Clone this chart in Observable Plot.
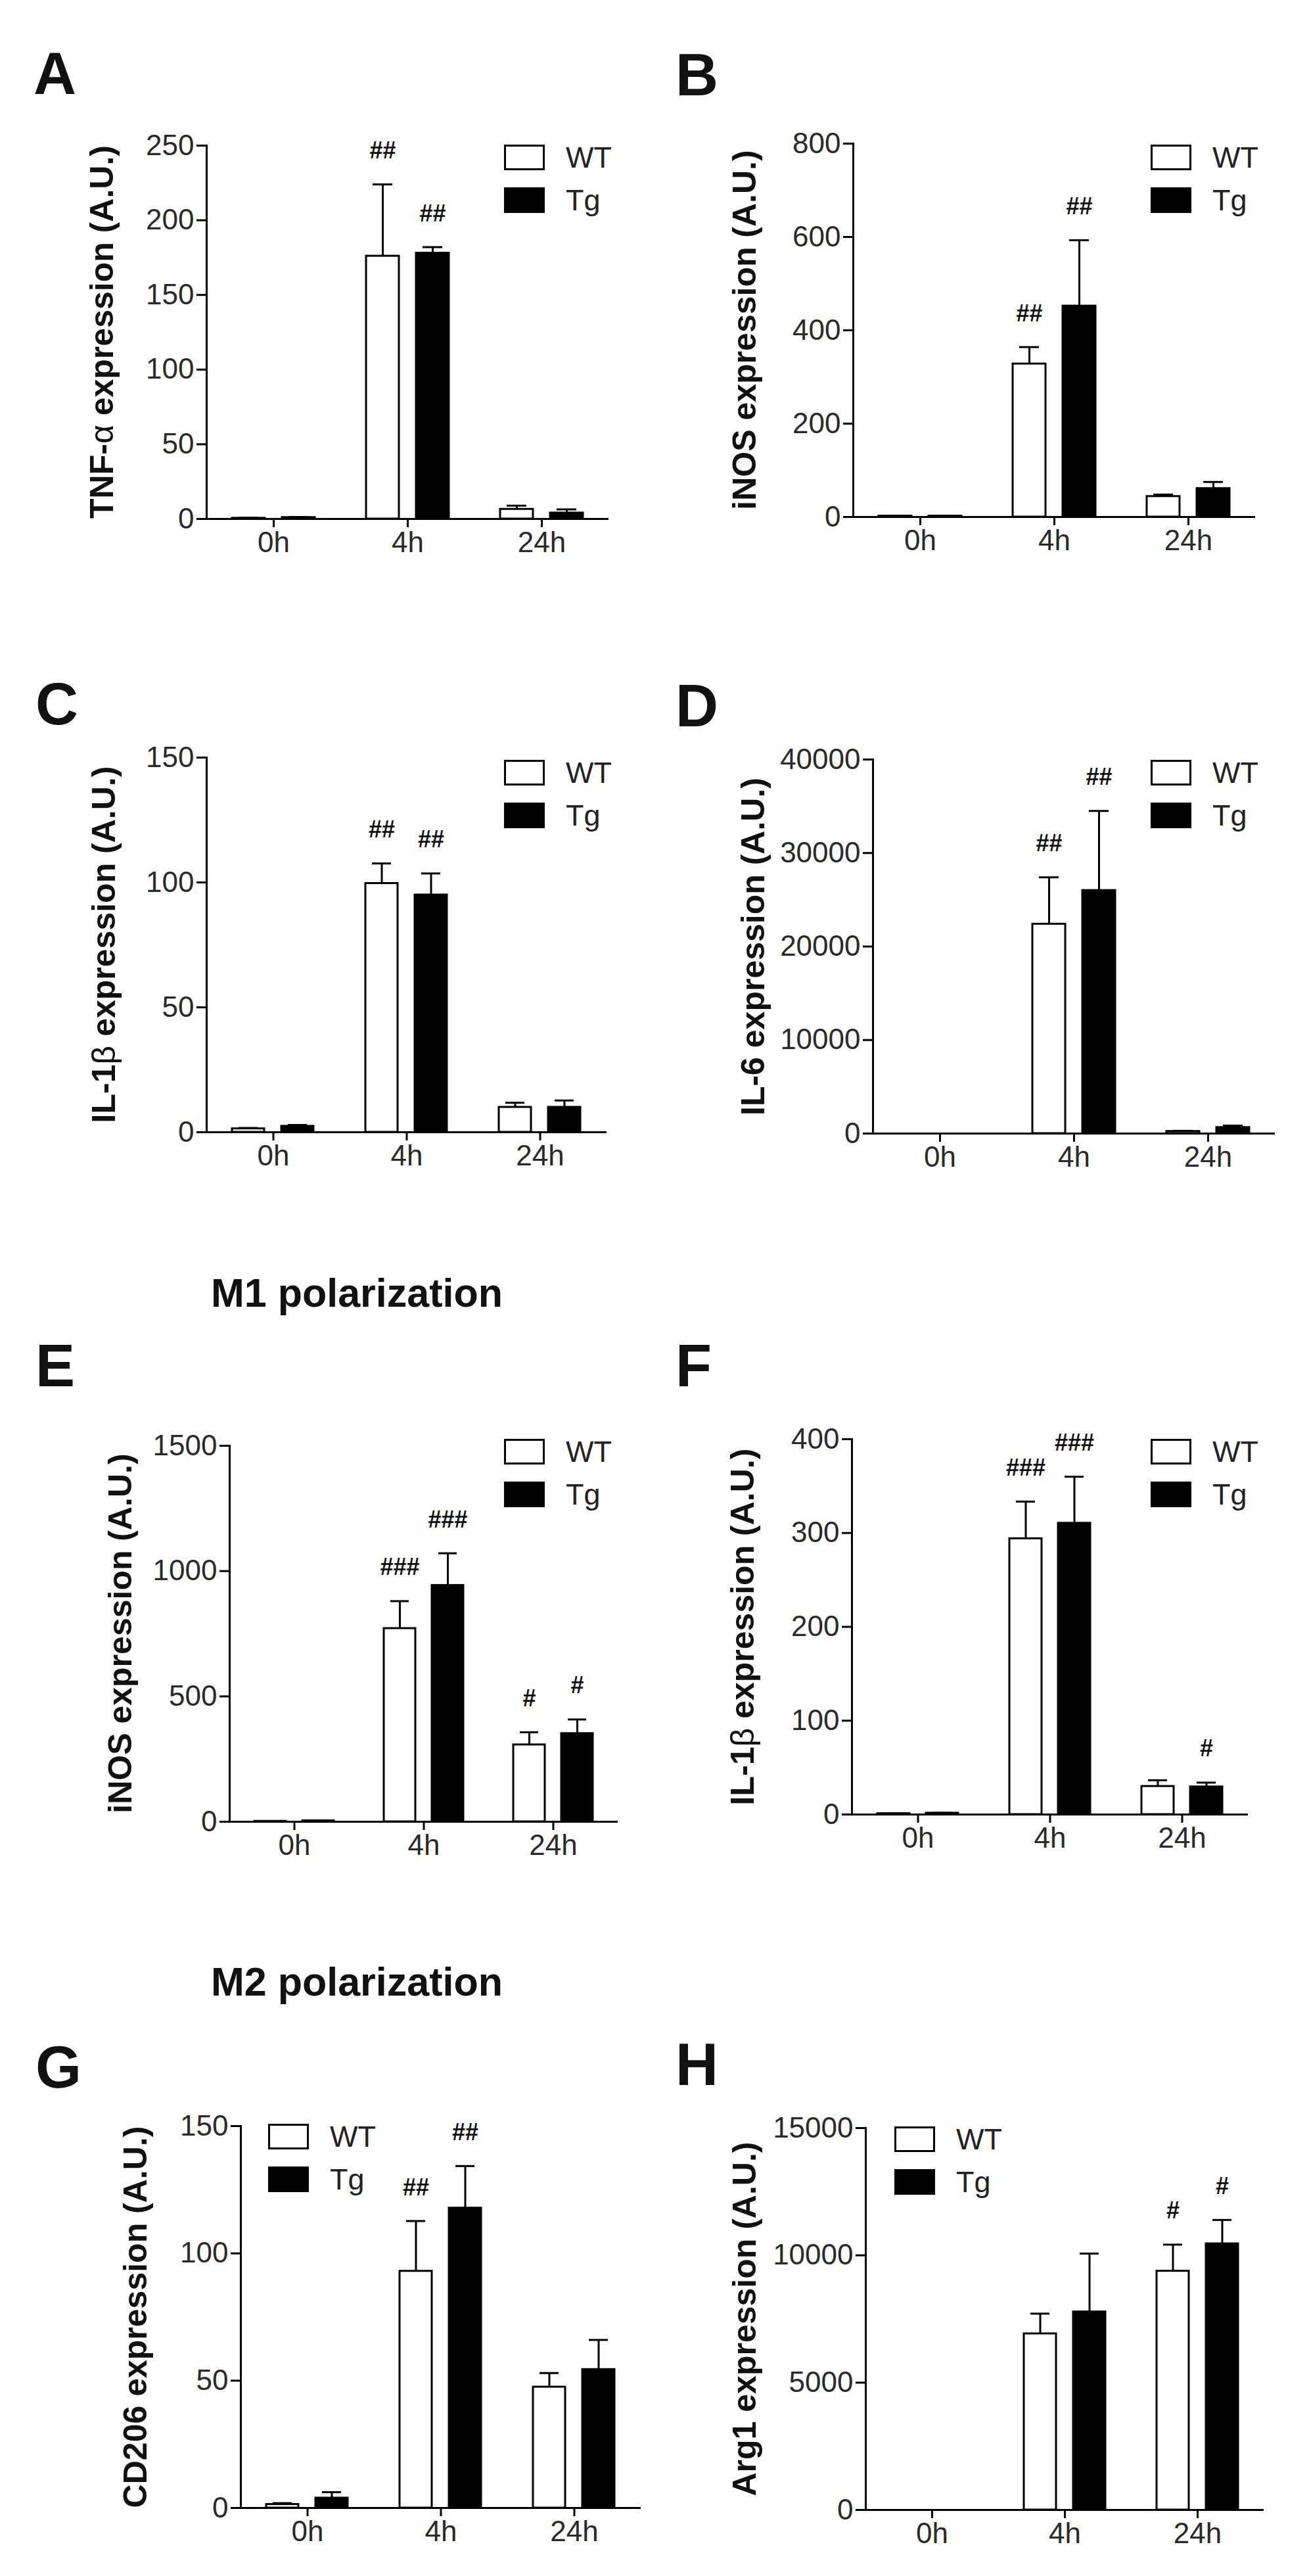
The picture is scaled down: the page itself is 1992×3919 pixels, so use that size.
<!DOCTYPE html>
<html>
<head>
<meta charset="utf-8">
<script src="https://cdn.jsdelivr.net/npm/d3@7"></script>
<script src="https://cdn.jsdelivr.net/npm/@observablehq/plot@0.6"></script>
<style>
  html, body { margin: 0; padding: 0; background: #fff; }
  #page { position: relative; width: 1992px; height: 3919px; background: #fff; font-family: "Liberation Sans", Arial, sans-serif; color: #111; overflow: hidden; }
  .abs { position: absolute; }
  .letter { font-size: 90px; font-weight: bold; line-height: 1; }
  .section { font-size: 61px; font-weight: bold; line-height: 1; white-space: nowrap; transform: translateX(-50%); }
  .ylab { font-size: 50px; font-weight: bold; white-space: nowrap; line-height: 1; transform: translate(-50%, -50%) rotate(-90deg); }
  .ylab .g { font-weight: normal; }
  .legend { font-size: 45px; line-height: 1; color: #222; }
  .legend .row { display: flex; align-items: center; height: 39px; margin-bottom: 26px; }
  .legend .sw { width: 56px; height: 33px; border: 3px solid #000; margin-right: 32px; }
  .plotbox svg { overflow: visible; }
</style>
</head>
<body>
<div id="page"></div>
<script>
// ---------- data ----------
const times = ["0h", "4h", "24h"];
const groups = ["WT", "Tg"];

// A: TNF-alpha
const tnfWT = [0.5, 176, 6.5];
const tnfWTsem = [0.3, 48, 2.4];
const tnfTg = [1.0, 178, 4.0];
const tnfTgSem = [0.3, 4, 2.4];
const tnfWTsig = ["", "##", ""];
const tnfTgSig = ["", "##", ""];
const tnfTicks = [0, 50, 100, 150, 200, 250];

// B: iNOS
const inosWT = [2, 328, 44];
const inosWTsem = [0.5, 36, 4];
const inosTg = [2, 452, 61];
const inosTgSem = [0.5, 141, 14];
const inosWTsig = ["", "##", ""];
const inosTgSig = ["", "##", ""];
const inosTicks = [0, 200, 400, 600, 800];

// C: IL-1beta
const il1WT = [1.4, 99.6, 10];
const il1WTsem = [0.3, 8, 1.8];
const il1Tg = [2.4, 95, 10];
const il1TgSem = [0.5, 8.6, 2.7];
const il1WTsig = ["", "##", ""];
const il1TgSig = ["", "##", ""];
const il1Ticks = [0, 50, 100, 150];

// D: IL-6
const il6WT = [0, 22400, 230];
const il6WTsem = [0, 5000, 60];
const il6Tg = [0, 26000, 650];
const il6TgSem = [0, 8500, 200];
const il6WTsig = ["", "##", ""];
const il6TgSig = ["", "##", ""];
const il6Ticks = [0, 10000, 20000, 30000, 40000];

// E: M1 iNOS
const m1inosWT = [2, 771, 307];
const m1inosWTsem = [0.5, 109, 50];
const m1inosTg = [4, 943, 352];
const m1inosTgSem = [1, 128, 56];
const m1inosWTsig = ["", "###", "#"];
const m1inosTgSig = ["", "###", "#"];
const m1inosTicks = [0, 500, 1000, 1500];

// F: M1 IL-1beta
const m1il1WT = [1, 294, 30];
const m1il1WTsem = [0.3, 39.5, 6.5];
const m1il1Tg = [1.5, 310.5, 29.5];
const m1il1TgSem = [0.3, 49.5, 4.5];
const m1il1WTsig = ["", "###", ""];
const m1il1TgSig = ["", "###", "#"];
const m1il1Ticks = [0, 100, 200, 300, 400];

// G: M2 CD206
const cd206WT = [1.4, 93, 47.5];
const cd206WTsem = [0.5, 19.7, 5.5];
const cd206Tg = [3.9, 117.8, 54.4];
const cd206TgSem = [2.3, 16.5, 11.6];
const cd206WTsig = ["", "##", ""];
const cd206TgSig = ["", "##", ""];
const cd206Ticks = [0, 50, 100, 150];

// H: M2 Arg1
const arg1WT = [0, 6920, 9380];
const arg1WTsem = [0, 790, 1040];
const arg1Tg = [0, 7780, 10455];
const arg1TgSem = [0, 2290, 935];
const arg1WTsig = ["", "", "#"];
const arg1TgSig = ["", "", "#"];
const arg1Ticks = [0, 5000, 10000, 15000];

// ---------- layout (page pixels) ----------
const panels = [
  {letter: "A", lx: 51, ly: 79, ax: 314, ar: 926, at: 221, ab: 789, legX: 767, legY: 220, labX: 155,
   label: 'TNF-<span class="g">α</span> expression (A.U.)',
   wt: tnfWT, wtSem: tnfWTsem, tg: tnfTg, tgSem: tnfTgSem, wtSig: tnfWTsig, tgSig: tnfTgSig, ticks: tnfTicks},
  {letter: "B", lx: 1028, ly: 81, ax: 1297, ar: 1911, at: 218, ab: 786, legX: 1751, legY: 220, labX: 1133,
   label: 'iNOS expression (A.U.)',
   wt: inosWT, wtSem: inosWTsem, tg: inosTg, tgSem: inosTgSem, wtSig: inosWTsig, tgSig: inosTgSig, ticks: inosTicks},
  {letter: "C", lx: 54, ly: 1038, ax: 313, ar: 923, at: 1152, ab: 1722, legX: 767, legY: 1156, labX: 158,
   label: 'IL-1<span class="g">β</span> expression (A.U.)',
   wt: il1WT, wtSem: il1WTsem, tg: il1Tg, tgSem: il1TgSem, wtSig: il1WTsig, tgSig: il1TgSig, ticks: il1Ticks},
  {letter: "D", lx: 1028, ly: 1041, ax: 1328, ar: 1940, at: 1155, ab: 1724, legX: 1751, legY: 1156, labX: 1146,
   label: 'IL-6 expression (A.U.)',
   wt: il6WT, wtSem: il6WTsem, tg: il6Tg, tgSem: il6TgSem, wtSig: il6WTsig, tgSig: il6TgSig, ticks: il6Ticks},
  {letter: "E", lx: 54, ly: 2045, ax: 348, ar: 941, at: 2199, ab: 2771, legX: 767, legY: 2189, labX: 183,
   label: 'iNOS expression (A.U.)',
   wt: m1inosWT, wtSem: m1inosWTsem, tg: m1inosTg, tgSem: m1inosTgSem, wtSig: m1inosWTsig, tgSig: m1inosTgSig, ticks: m1inosTicks},
  {letter: "F", lx: 1028, ly: 2045, ax: 1296, ar: 1899, at: 2189, ab: 2760, legX: 1751, legY: 2189, labX: 1130,
   label: 'IL-1<span class="g">β</span> expression (A.U.)',
   wt: m1il1WT, wtSem: m1il1WTsem, tg: m1il1Tg, tgSem: m1il1TgSem, wtSig: m1il1WTsig, tgSig: m1il1TgSig, ticks: m1il1Ticks},
  {letter: "G", lx: 54, ly: 3112, ax: 365, ar: 976, at: 3234, ab: 3815, legX: 408, legY: 3231, labX: 206,
   label: 'CD206 expression (A.U.)',
   wt: cd206WT, wtSem: cd206WTsem, tg: cd206Tg, tgSem: cd206TgSem, wtSig: cd206WTsig, tgSig: cd206TgSig, ticks: cd206Ticks},
  {letter: "H", lx: 1028, ly: 3108, ax: 1316, ar: 1924, at: 3237, ab: 3818, legX: 1361, legY: 3235, labX: 1133,
   label: 'Arg1 expression (A.U.)',
   wt: arg1WT, wtSem: arg1WTsem, tg: arg1Tg, tgSem: arg1TgSem, wtSig: arg1WTsig, tgSig: arg1TgSig, ticks: arg1Ticks}
];

const sections = [
  {text: "M1 polarization", cx: 543, capTop: 1945},
  {text: "M2 polarization", cx: 543, capTop: 2993}
];

const page = document.getElementById("page");
function addDiv(cls, html, left, top) {
  const d = document.createElement("div");
  d.className = "abs " + cls;
  d.innerHTML = html;
  d.style.left = left + "px";
  d.style.top = top + "px";
  page.appendChild(d);
  return d;
}

const ML = 170, MR = 30, MT = 70, MB = 100;

for (const p of panels) {
  const rows = [];
  times.forEach((t, i) => {
    rows.push({time: t, group: "WT", mean: p.wt[i], sem: p.wtSem[i], sig: p.wtSig[i]});
    rows.push({time: t, group: "Tg", mean: p.tg[i], sem: p.tgSem[i], sig: p.tgSig[i]});
  });
  const top = d => d.mean + d.sem;
  const ymax = p.ticks[p.ticks.length - 1];
  const width = ML + (p.ar - p.ax) + MR;
  const height = MT + (p.ab - p.at) + MB;

  const chart = Plot.plot({
    width, height,
    marginLeft: ML, marginRight: MR, marginTop: MT, marginBottom: MB,
    style: {fontFamily: '"Liberation Sans", Arial, sans-serif', fontSize: "44px", color: "#222", background: "transparent", overflow: "visible"},
    fx: {domain: times, padding: 0},
    x: {domain: groups, axis: null, paddingInner: 0.342, paddingOuter: 0.513},
    y: {domain: [0, ymax]},
    color: {domain: groups, range: ["white", "black"]},
    marks: [
      Plot.barY(rows, {fx: "time", x: "group", y: "mean", fill: "group", stroke: "black", strokeWidth: 3}),
      Plot.ruleX(rows, {fx: "time", x: "group", y1: "mean", y2: top, stroke: "black", strokeWidth: 3}),
      Plot.tickY(rows, {fx: "time", x: "group", y: top, stroke: "black", strokeWidth: 3, inset: 10}),
      Plot.text(rows, {fx: "time", x: "group", y: top, text: "sig", dy: -51, fontSize: 36, fontWeight: "bold", fill: "#111"}),
      Plot.ruleY([0], {stroke: "black", strokeWidth: 3}),
      Plot.frame({anchor: "left", facetAnchor: "left", stroke: "black", strokeWidth: 3}),
      Plot.axisY({ticks: p.ticks, tickFormat: d => String(d), tickSize: 15, tickPadding: 4, fontSize: 44, label: null, strokeWidth: 3, stroke: "black", fill: "#2a2a2a"}),
      Plot.axisFx({anchor: "bottom", tickSize: 13, tickPadding: 6, fontSize: 44, label: null, strokeWidth: 3, stroke: "black", fill: "#2a2a2a"})
    ]
  });
  const box = document.createElement("div");
  box.className = "abs plotbox";
  box.style.left = (p.ax - ML) + "px";
  box.style.top = (p.at - MT) + "px";
  box.appendChild(chart);
  page.appendChild(box);

  addDiv("letter", p.letter, p.lx, p.ly - 0.13 * 90);
  addDiv("ylab", p.label, p.labX, (p.at + p.ab) / 2);
  addDiv("legend",
    groups.map(g => `<div class="row"><div class="sw" style="background:${g === "WT" ? "#fff" : "#000"}"></div><span>${g}</span></div>`).join(""),
    p.legX, p.legY);
}

for (const s of sections) {
  addDiv("section", s.text, s.cx, s.capTop - 0.13 * 61);
}
</script>
</body>
</html>
